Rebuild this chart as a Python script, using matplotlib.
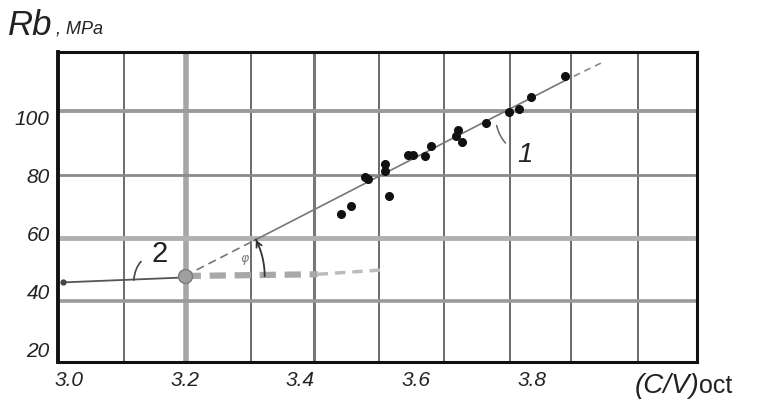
import numpy as np
import matplotlib
matplotlib.use("Agg")
import matplotlib.pyplot as plt

# ---- data ----
x_ticks = [3.0, 3.2, 3.4, 3.6, 3.8]
x_tick_labels = ["3.0", "3.2", "3.4", "3.6", "3.8"]
y_ticks = [20, 40, 60, 80, 100]
y_tick_labels = ["20", "40", "60", "80", "100"]

pts_x = [3.470, 3.488, 3.512, 3.517, 3.546, 3.546, 3.553, 3.586, 3.595, 3.616,
         3.626, 3.669, 3.673, 3.680, 3.721, 3.761, 3.778, 3.799, 3.858]
pts_y = [66.3, 69.1, 79.1, 78.4, 83.5, 81.1, 72.5, 86.6, 86.6, 86.3,
         89.7, 93.2, 95.2, 91.1, 97.7, 101.4, 102.5, 106.6, 113.8]

# line 1 (fitted trend): dashed start, solid middle, dashed end
line1_x = [3.20, 3.32, 3.855, 3.92]
line1_y = [45.0, 57.2, 112.0, 118.3]

# line 2 (horizontal level)
line2_x = [2.99, 3.20]
line2_y = [42.8, 44.5]

# horizontal dashed reference from the 3.2 point
ref_thick_x = [3.20, 3.43]
ref_thick_y = [45.0, 45.6]
ref_thin_x = [3.43, 3.55]
ref_thin_y = [45.6, 47.2]

# grid (hand-drawn positions)
vgrid = [3.095, 3.202, 3.3145, 3.4235, 3.536, 3.648, 3.763, 3.868, 3.984]
hgrid = [101.8, 79.8, 58.1, 36.4]

W, H = 757, 406
fig = plt.figure(figsize=(W / 100, H / 100), dpi=100)
L, R, T, B = 58, 697, 53, 363
ax = fig.add_axes([L / W, 1 - B / H, (R - L) / W, (B - T) / H])
ax.set_xlim(2.981, 4.086)
ax.set_ylim(15.4, 122.1)

font = "Liberation Sans"
txtc = "#222222"

# grid lines
vstyle = {3.202: ("#a6a6a6", 4.0), 3.4235: ("#777777", 2.2)}
for gx in vgrid:
    c, w = vstyle.get(gx, ("#6a6a6a", 1.4))
    ax.axvline(gx, color=c, lw=w, zorder=1)
hstyle = {58.1: ("#b0b0b0", 3.5), 101.8: ("#9a9a9a", 2.8), 36.4: ("#9a9a9a", 2.6)}
for gy in hgrid:
    c, w = hstyle.get(gy, ("#8a8a8a", 2.0))
    ax.axhline(gy, color=c, lw=w, zorder=1)

# line 2
ax.plot(line2_x, line2_y, color="#555555", lw=1.3, zorder=3)
ax.plot(line2_x[:1], line2_y[:1], "o", color="#444444", ms=3.5, zorder=3)

# reference dashed horizontal
ax.plot(ref_thick_x, ref_thick_y, color="#a8a8a8", lw=4.5, dashes=(2.6, 1.4), zorder=2)
ax.plot(ref_thin_x, ref_thin_y, color="#bcbcbc", lw=2.5, dashes=(3, 2), zorder=2)

# line 1
ax.plot(line1_x[0:2], line1_y[0:2], color="#777777", lw=1.2, dashes=(5, 3), zorder=3)
ax.plot(line1_x[1:3], line1_y[1:3], color="#777777", lw=1.2, zorder=3)
ax.plot(line1_x[2:4], line1_y[2:4], color="#888888", lw=1.2, dashes=(4, 3), zorder=3)

# data points
ax.plot(pts_x, pts_y, "o", color="#111111", ms=5.5, zorder=4)

# the 3.2 point
ax.plot([line1_x[0]], [line1_y[0]], "o", ms=10, color="#a0a0a0",
        markeredgecolor="#7a7a7a", zorder=5)

# angle arc (pixel radius)
c_disp = ax.transData.transform((line1_x[0], line1_y[0]))
p_disp = ax.transData.transform((line1_x[1], line1_y[1]))
ang = np.arctan2(p_disp[1] - c_disp[1], p_disp[0] - c_disp[0])
r = 80
th = np.linspace(0, ang, 40)
arc_disp = np.column_stack([c_disp[0] + r * np.cos(th), c_disp[1] + r * np.sin(th)])
arc_data = ax.transData.inverted().transform(arc_disp)
ax.plot(arc_data[:, 0], arc_data[:, 1], color="#333333", lw=1.3, zorder=4)
ax.annotate("", xy=arc_data[-1], xytext=arc_data[-8],
            arrowprops=dict(arrowstyle="->", color="#333333", lw=1.3,
                            mutation_scale=10, shrinkA=0, shrinkB=0), zorder=4)
ax.text(3.304, 51.2, "φ", fontsize=9, color="#777777", fontstyle="italic",
        ha="center", va="center", zorder=4)

# labels 1 and 2 with leaders
ax.annotate("2", xy=(3.112, 43.6), xytext=(3.157, 53.0), fontsize=21,
            family=font, color=txtc, ha="center", va="center",
            arrowprops=dict(arrowstyle="-", color="#444444", lw=1.2,
                            connectionstyle="arc3,rad=0.4", shrinkA=7, shrinkB=0))
ax.annotate("1", xy=(3.7395, 96.8), xytext=(3.788, 87.0), fontsize=20,
            family=font, fontstyle="italic", color=txtc, ha="center", va="center",
            arrowprops=dict(arrowstyle="-", color="#666666", lw=1.1,
                            connectionstyle="arc3,rad=-0.3", shrinkA=8, shrinkB=0))

# ticks
ax.set_xticks(x_ticks)
ax.set_xticklabels(x_tick_labels, fontsize=15, family=font, fontstyle="italic", color=txtc)
ax.set_yticks(y_ticks)
ax.set_yticklabels(y_tick_labels, fontsize=15, family=font, fontstyle="italic", color=txtc)
ax.tick_params(length=0, pad=6)

for s in ax.spines.values():
    s.set_color("#111111")
    s.set_linewidth(2.2)
ax.spines["left"].set_linewidth(2.8)

# axis titles
fig.text(8 / W, 1 - 35 / H, "Rb", fontsize=25, family=font, fontstyle="italic",
         color=txtc, ha="left", va="baseline")
fig.text(56 / W, 1 - 33 / H, ", MPa", fontsize=13, family=font, fontstyle="italic",
         color=txtc, ha="left", va="baseline")
t1 = fig.text(635 / W, 1 - 393 / H, "(C/V)", fontsize=20, family=font, fontstyle="italic",
              color=txtc, ha="left", va="baseline")
fig.canvas.draw()
bb = t1.get_window_extent(renderer=fig.canvas.get_renderer())
fig.text(bb.x1 / W - 1 / W, 1 - 393 / H, "oct", fontsize=18, family=font,
         color=txtc, ha="left", va="baseline")

fig.savefig("out.png", dpi=100)
